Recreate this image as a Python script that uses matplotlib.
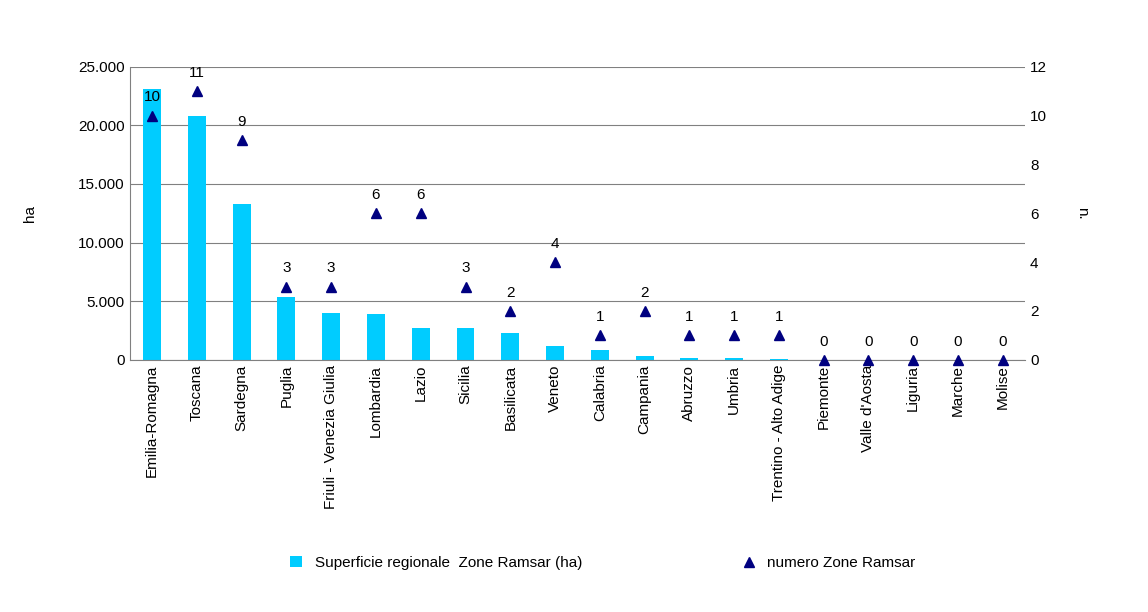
import matplotlib.pyplot as plt
import numpy as np
from matplotlib.ticker import FuncFormatter

regioni = ["Emilia-Romagna", "Toscana", "Sardegna", "Puglia", "Friuli - Venezia Giulia",
           "Lombardia", "Lazio", "Sicilia", "Basilicata", "Veneto", "Calabria", "Campania",
           "Abruzzo", "Umbria", "Trentino - Alto Adige", "Piemonte", "Valle d'Aosta",
           "Liguria", "Marche", "Molise"]
superficie = [23100, 20800, 13300, 5400, 4000, 3950, 2700, 2700, 2300, 1200, 850, 350,
              200, 170, 60, 0, 0, 0, 0, 0]
numero = [10, 11, 9, 3, 3, 6, 6, 3, 2, 4, 1, 2, 1, 1, 1, 0, 0, 0, 0, 0]

plt.rcParams['font.family'] = ['Liberation Sans', 'DejaVu Sans']
fig = plt.figure(figsize=(11.48, 6.12), dpi=100)
ax = fig.add_axes([0.113, 0.412, 0.78, 0.479])
x = np.arange(len(regioni))

ax.bar(x, superficie, width=0.4, color='#00CCFF', zorder=2,
       label='Superficie regionale  Zone Ramsar (ha)')
ax.set_ylim(0, 25000)
ax.set_yticks(np.arange(0, 25001, 5000))
ax.yaxis.set_major_formatter(FuncFormatter(lambda v, p: f"{int(v):,}".replace(",", ".")))
ax.grid(axis='y', color='#808080', linewidth=0.8, zorder=0)
ax.set_xlim(-0.5, len(regioni) - 0.5)
ax.set_xticks(x)
ax.set_xticklabels(regioni, rotation=90, fontsize=11)
ax.set_ylabel('ha', fontsize=11, labelpad=30)
ax.tick_params(axis='y', labelsize=11, length=0)
ax.tick_params(axis='x', length=0)
for s in ['top', 'right']:
    ax.spines[s].set_visible(False)
ax.spines['left'].set_color('#808080')
ax.spines['bottom'].set_color('#808080')

ax2 = ax.twinx()
ax2.plot(x, numero, linestyle='none', marker='^', color='#000080', markersize=7,
         label='numero Zone Ramsar', zorder=3, clip_on=False)
for xi, n in zip(x, numero):
    ax2.annotate(str(n), (xi, n), xytext=(0, 8), textcoords='offset points',
                 ha='center', va='bottom', fontsize=11)
ax2.set_ylim(0, 12)
ax2.set_yticks(range(0, 13, 2))
ax2.set_ylabel('n.', fontsize=11, rotation=270, labelpad=30)
ax2.tick_params(axis='y', labelsize=11, length=0)
for s in ['top', 'right', 'left', 'bottom']:
    ax2.spines[s].set_visible(False)

h1, l1 = ax.get_legend_handles_labels()
h2, l2 = ax2.get_legend_handles_labels()
fig.legend(h1 + h2, l1 + l2, loc='center', bbox_to_anchor=(0.525, 0.08), ncol=2,
           frameon=False, fontsize=11, columnspacing=10.5, handlelength=0.8)

fig.savefig('out.png', dpi=100)
